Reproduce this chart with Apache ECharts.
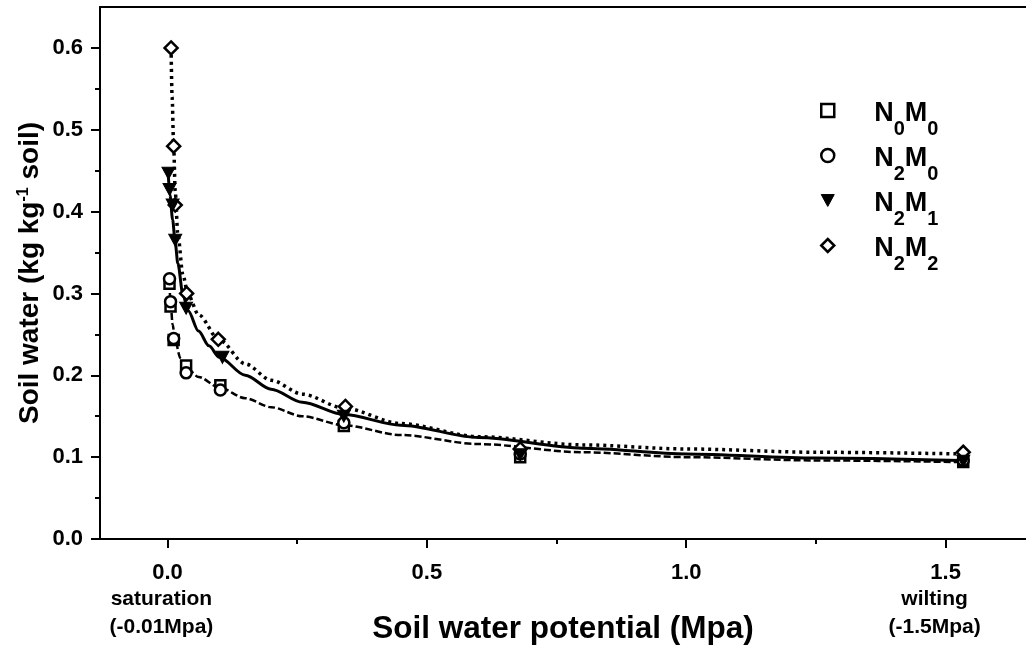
<!DOCTYPE html>
<html>
<head>
<meta charset="utf-8">
<script src="https://cdn.jsdelivr.net/npm/echarts@6/dist/echarts.min.js"></script>
<style>
html,body{margin:0;padding:0;background:#fff;}
#chart{width:1026px;height:647px;}
</style>
</head>
<body>
<div id="chart"></div>
<script>
// Measured points [potential (MPa), soil water (kg/kg)]
const n0m0Points = [[0.004,0.312],[0.006,0.284],[0.012,0.243],[0.036,0.212],[0.102,0.188],[0.34,0.138],[0.68,0.100],[1.534,0.094]];
const n2m0Points = [[0.004,0.318],[0.006,0.290],[0.012,0.245],[0.036,0.203],[0.102,0.182],[0.34,0.142],[0.68,0.104],[1.534,0.096]];
const n2m1Points = [[0.002,0.447],[0.004,0.427],[0.010,0.408],[0.015,0.365],[0.036,0.282],[0.106,0.222],[0.34,0.150],[0.68,0.103],[1.534,0.095]];
const n2m2Points = [[0.007,0.600],[0.012,0.480],[0.015,0.408],[0.037,0.300],[0.098,0.244],[0.343,0.162],[0.68,0.110],[1.534,0.106]];

// Fitted curves
const fitM0Curve = [[0.003,0.325],[0.006,0.290],[0.010,0.262],[0.015,0.242],[0.025,0.221],[0.040,0.207],[0.060,0.198],[0.10,0.185],[0.15,0.172],[0.20,0.161],[0.26,0.150],[0.34,0.139],[0.45,0.127],[0.60,0.116],[0.80,0.106],[1.00,0.100],[1.25,0.096],[1.53,0.094]];
const fitM1Curve = [[0.001,0.450],[0.005,0.420],[0.010,0.390],[0.015,0.362],[0.020,0.337],[0.030,0.298],[0.040,0.279],[0.060,0.254],[0.080,0.236],[0.10,0.222],[0.15,0.200],[0.20,0.183],[0.26,0.167],[0.34,0.152],[0.45,0.139],[0.60,0.124],[0.80,0.111],[1.00,0.104],[1.25,0.099],[1.53,0.096]];
const fitM2Curve = [[0.007,0.600],[0.009,0.540],[0.012,0.480],[0.015,0.425],[0.020,0.372],[0.030,0.322],[0.040,0.298],[0.060,0.274],[0.10,0.243],[0.15,0.214],[0.20,0.194],[0.26,0.177],[0.34,0.160],[0.45,0.141],[0.60,0.125],[0.80,0.115],[1.00,0.110],[1.25,0.106],[1.53,0.104]];

const xMajorTicks = [0, 0.5, 1.0, 1.5];
const xMinorTicks = [0.25, 0.75, 1.25];
const yMajorTicks = [0, 0.1, 0.2, 0.3, 0.4, 0.5, 0.6];
const yMinorTicks = [0.05, 0.15, 0.25, 0.35, 0.45, 0.55];
const seriesNames = ['N0M0', 'N2M0', 'N2M1', 'N2M2'];
const legendSubscripts = {N0M0: ['0','0'], N2M0: ['2','0'], N2M1: ['2','1'], N2M2: ['2','2']};

const FONT = 'Liberation Sans';
const chart = echarts.init(document.getElementById('chart'), null, {renderer: 'canvas'});

const xMin = -0.13, xMax = 1.655, yMin = 0, yMax = 0.65;
const axisLineStyle = {color: '#000', width: 2};
const hollow = {color: '#fff', borderColor: '#000', borderWidth: 2.5, opacity: 1};
const filled = {color: '#000', borderColor: '#000', borderWidth: 1, opacity: 1};
const downTriangle = 'path://M0,0L12,0L6,11Z';

const symbolOf = {N0M0: 'rect', N2M0: 'circle', N2M1: downTriangle, N2M2: 'diamond'};

const option = {
  animation: false,
  backgroundColor: '#fff',
  grid: {left: 100, right: 0, top: 7, bottom: 108, containLabel: false, outerBoundsMode: 'none'},
  legend: {
    show: true,
    data: seriesNames.map(n => ({name: n, icon: symbolOf[n], itemStyle: n === 'N2M1' ? filled : hollow})),
    orient: 'vertical',
    left: 815, top: 83,
    itemWidth: 13, itemHeight: 13, itemGap: -6,
    formatter: function (name) {
      const s = legendSubscripts[name];
      return '{n|N}{s|' + s[0] + '}{m|M}{s|' + s[1] + '}';
    },
    textStyle: {
      fontFamily: FONT, fontWeight: 'bold', color: '#000',
      rich: {
        n: {fontFamily: FONT, fontWeight: 'bold', fontSize: 27, padding: [12,0,6,35], verticalAlign: 'top', color: '#000'},
        m: {fontFamily: FONT, fontWeight: 'bold', fontSize: 27, padding: [12,0,6,0], verticalAlign: 'top', color: '#000'},
        s: {fontFamily: FONT, fontWeight: 'bold', fontSize: 20, lineHeight: 20, padding: [31,0,0,0], verticalAlign: 'top', color: '#000'}
      }
    }
  },
  xAxis: [
    {
      type: 'value', position: 'bottom', min: xMin, max: xMax,
      name: 'Soil water potential (Mpa)', nameLocation: 'middle', nameGap: 74, nameMoveOverlap: false,
      nameTextStyle: {fontFamily: FONT, fontWeight: 'bold', fontSize: 31.5, color: '#000', verticalAlign: 'top'},
      axisLine: {show: true, onZero: false, lineStyle: axisLineStyle},
      axisTick: {show: true, inside: false, length: 9, lineStyle: axisLineStyle, customValues: xMajorTicks},
      axisLabel: {
        show: true, margin: 22, customValues: xMajorTicks,
        formatter: function (v) {
          const t = v.toFixed(1);
          if (Math.abs(v) < 1e-9) return '{a|' + t + '}\n{b|saturation}\n{b|(-0.01Mpa)}';
          if (Math.abs(v - 1.5) < 1e-9) return '{a|' + t + '}\n{c|wilting}\n{c|(-1.5Mpa)}';
          return '{a|' + t + '}';
        },
        rich: {
          a: {fontFamily: FONT, fontWeight: 'bold', fontSize: 22, lineHeight: 24, color: '#000'},
          b: {fontFamily: FONT, fontWeight: 'bold', fontSize: 21, lineHeight: 28, color: '#000', padding: [0,12,0,0]},
          c: {fontFamily: FONT, fontWeight: 'bold', fontSize: 21, lineHeight: 28, color: '#000', padding: [0,22,0,0]}
        }
      },
      splitLine: {show: false}, minorTick: {show: false}
    },
    {
      type: 'value', position: 'bottom', min: xMin, max: xMax,
      axisLine: {show: false, onZero: false},
      axisTick: {show: true, inside: false, length: 5, lineStyle: axisLineStyle, customValues: xMinorTicks},
      axisLabel: {show: false},
      splitLine: {show: false}
    },
    {
      type: 'value', position: 'top', min: xMin, max: xMax,
      axisLine: {show: true, onZero: false, lineStyle: axisLineStyle},
      axisTick: {show: false}, axisLabel: {show: false}, splitLine: {show: false}
    }
  ],
  yAxis: [
    {
      type: 'value', position: 'left', min: yMin, max: yMax,
      name: 'Soil water (kg kg{sup|-1} soil)', nameLocation: 'middle', nameGap: 56, nameRotate: 90, nameMoveOverlap: false,
      nameTextStyle: {
        fontFamily: FONT, fontWeight: 'bold', fontSize: 28, color: '#000',
        rich: {sup: {fontFamily: FONT, fontWeight: 'bold', fontSize: 16, lineHeight: 16, verticalAlign: 'top', color: '#000'}}
      },
      axisLine: {show: true, onZero: false, lineStyle: axisLineStyle},
      axisTick: {show: true, inside: false, length: 9, lineStyle: axisLineStyle, customValues: yMajorTicks},
      axisLabel: {
        show: true, margin: 17, customValues: yMajorTicks,
        fontFamily: FONT, fontWeight: 'bold', fontSize: 22, color: '#000',
        formatter: function (v) { return v.toFixed(1); }
      },
      splitLine: {show: false}
    },
    {
      type: 'value', position: 'left', min: yMin, max: yMax,
      axisLine: {show: false, onZero: false},
      axisTick: {show: true, inside: false, length: 5, lineStyle: axisLineStyle, customValues: yMinorTicks},
      axisLabel: {show: false},
      splitLine: {show: false}
    }
  ],
  series: [
    {
      name: 'fit M0', type: 'line', data: fitM0Curve, showSymbol: false, symbol: 'none',
      smooth: 0.3, smoothMonotone: 'x', silent: true,
      lineStyle: {color: '#000', width: 2.5, type: [7, 3]}, z: 2
    },
    {
      name: 'fit M1', type: 'line', data: fitM1Curve, showSymbol: false, symbol: 'none',
      smooth: 0.3, smoothMonotone: 'x', silent: true,
      lineStyle: {color: '#000', width: 3, type: 'solid'}, z: 2
    },
    {
      name: 'fit M2', type: 'line', data: fitM2Curve, showSymbol: false, symbol: 'none',
      smooth: 0.3, smoothMonotone: 'x', silent: true,
      lineStyle: {color: '#000', width: 3.5, type: [3, 4]}, z: 2
    },
    {
      name: 'N0M0', type: 'scatter', data: n0m0Points, symbol: symbolOf.N0M0, symbolSize: 10,
      itemStyle: hollow, z: 5
    },
    {
      name: 'N2M0', type: 'scatter', data: n2m0Points, symbol: symbolOf.N2M0, symbolSize: 11,
      itemStyle: hollow, z: 5
    },
    {
      name: 'N2M1', type: 'scatter', data: n2m1Points, symbol: symbolOf.N2M1, symbolSize: [13, 12],
      itemStyle: filled, z: 6
    },
    {
      name: 'N2M2', type: 'scatter', data: n2m2Points, symbol: symbolOf.N2M2, symbolSize: 13,
      itemStyle: hollow, z: 5
    }
  ]
};
chart.setOption(option);
</script>
</body>
</html>
